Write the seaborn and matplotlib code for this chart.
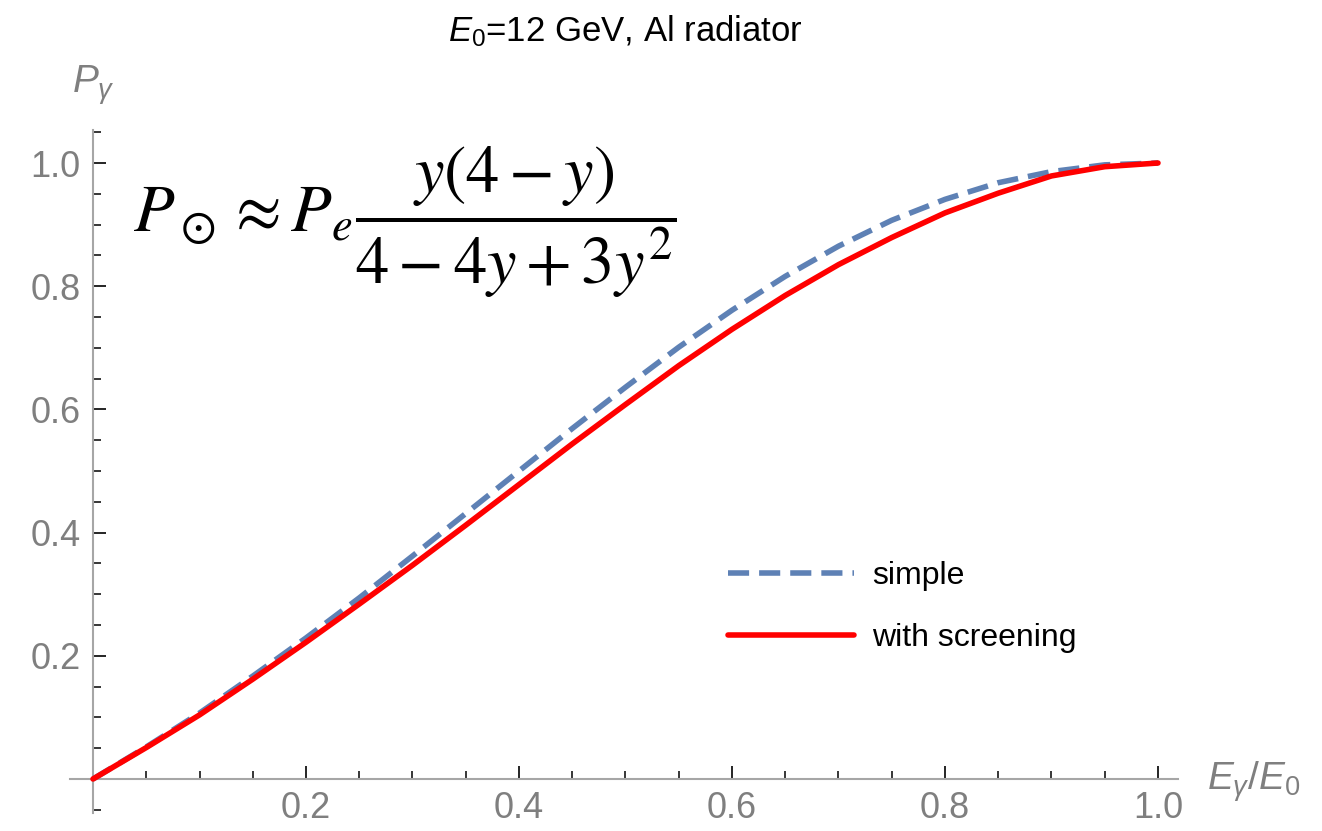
import numpy as np
import pandas as pd
import matplotlib
matplotlib.use("Agg")
import matplotlib.pyplot as plt
from matplotlib.ticker import FixedLocator
import seaborn as sns

# ---- data ----
x_vals = [0.00, 0.05, 0.10, 0.15, 0.20, 0.25, 0.30, 0.35, 0.40, 0.45, 0.50,
          0.55, 0.60, 0.65, 0.70, 0.75, 0.80, 0.85, 0.90, 0.95, 1.00]
simple = [0.000, 0.052, 0.107, 0.167, 0.229, 0.294, 0.362, 0.431, 0.500, 0.569, 0.636,
          0.701, 0.761, 0.816, 0.865, 0.907, 0.941, 0.968, 0.986, 0.997, 1.000]
screening = [0.000, 0.051, 0.104, 0.162, 0.222, 0.284, 0.347, 0.412, 0.478, 0.544, 0.608,
             0.671, 0.730, 0.785, 0.835, 0.879, 0.919, 0.951, 0.979, 0.994, 1.000]
series_names = ["simple", "with screening"]
x_major = [0.2, 0.4, 0.6, 0.8, 1.0]
y_major = [0.2, 0.4, 0.6, 0.8, 1.0]
x_tick_labels = ["0.2", "0.4", "0.6", "0.8", "1.0"]
y_tick_labels = ["0.2", "0.4", "0.6", "0.8", "1.0"]

df = pd.DataFrame({
    "x": x_vals + x_vals,
    "P": simple + screening,
    "series": [series_names[0]] * len(x_vals) + [series_names[1]] * len(x_vals),
})

sns.set_theme(style="white")
plt.rcParams["font.family"] = ["Liberation Sans", "DejaVu Sans"]
plt.rcParams["mathtext.fontset"] = "custom"
plt.rcParams["mathtext.rm"] = "Liberation Sans"
plt.rcParams["mathtext.it"] = "Liberation Sans:italic"
plt.rcParams["mathtext.bf"] = "Liberation Sans:bold"

W, H = 1322, 831
fig = plt.figure(figsize=(W / 100, H / 100), dpi=100)

# axes box in pixels (left, right, bottom, top)
px_l, px_r, px_b, px_t = 70, 1178, 813, 130
ax = fig.add_axes([px_l / W, 1 - px_b / H, (px_r - px_l) / W, (px_b - px_t) / H])

blue = "#5E81B5"
red = "#FF0000"
LW = 4.0
sns.lineplot(data=df, x="x", y="P", hue="series", style="series",
             palette={series_names[0]: blue, series_names[1]: red},
             dashes={series_names[0]: (3.8, 1.8), series_names[1]: ""},
             linewidth=LW, ax=ax, legend=True)
lines = ax.get_lines()
for ln in lines:
    ln.set_dash_capstyle("butt")
    ln.set_solid_joinstyle("round")
if len(lines) >= 2:
    lines[1].set_zorder(3)
    lines[0].set_zorder(2.5)

# axis limits matching pixel positions (0 at px 93, 1 at px 1158; y 0 at 779, 1 at 163)
sx = 1065.0
sy = 616.0
ax.set_xlim((px_l - 93) / sx, (px_r - 93) / sx)
ax.set_ylim((779 - px_b) / sy, (779 - px_t) / sy)

# spines crossing at origin
for s in ["top", "right"]:
    ax.spines[s].set_visible(False)
ax.spines["left"].set_position(("data", 0))
ax.spines["bottom"].set_position(("data", 0))
for s in ["left", "bottom"]:
    ax.spines[s].set_color("#a6a6a6")
    ax.spines[s].set_linewidth(1.5)
    ax.spines[s].set_zorder(1)

ax.xaxis.set_major_locator(FixedLocator(x_major))
ax.yaxis.set_major_locator(FixedLocator(y_major))
ax.set_xticklabels(x_tick_labels)
ax.set_yticklabels(y_tick_labels)
x_minor = [round(0.05 * k, 2) for k in range(1, 21) if round(0.05 * k, 2) not in x_major]
y_minor = [round(0.05 * k, 2) for k in range(-1, 22) if round(0.05 * k, 2) not in y_major]
ax.xaxis.set_minor_locator(FixedLocator(x_minor))
ax.yaxis.set_minor_locator(FixedLocator(y_minor))
ax.tick_params(which="both", bottom=True, left=True, top=False, right=False)
ax.tick_params(which="major", direction="in", length=9.4, width=1.2, color="black",
               labelsize=26, labelcolor="#7f7f7f")
ax.tick_params(which="minor", direction="in", length=5.8, width=1.1, color="black")
ax.tick_params(axis="y", which="major", pad=9)
ax.tick_params(axis="x", which="major", pad=9)
ax.set_xlabel("")
ax.set_ylabel("")
ax.grid(False)

# axis labels
ax.text(0, (779 - 93) / sy, r"$P_\gamma$", ha="center", va="baseline",
        fontsize=28, color="#7f7f7f")
ax.text((1207 - 93) / sx, (779 - 790) / sy, r"$E_\gamma/E_0$", ha="left", va="baseline",
        fontsize=28, color="#7f7f7f")

# title
fig.text(625 / W, 1 - 31 / H, r"$E_0$=12 GeV, Al radiator", ha="center", va="center",
         fontsize=25, color="black")

# formula
fig.text(133 / W, 1 - 222 / H,
         r"$P_\odot \approx P_e\dfrac{y(4-y)}{4-4y+3y^2}$",
         ha="left", va="center", fontsize=48, color="black", math_fontfamily="stix")

# legend
old = ax.get_legend()
handles = list(old.legend_handles)
labels = [t.get_text() for t in old.get_texts()]
old.remove()
leg = ax.legend(handles, labels, loc="upper left",
                bbox_to_anchor=(728 / W, 1 - 561 / H), bbox_transform=fig.transFigure,
                frameon=False, fontsize=23, handlelength=3.95, handletextpad=0.55,
                labelspacing=1.0, borderpad=0, borderaxespad=0)
for t in leg.get_texts():
    t.set_color("black")
for h in leg.legend_handles:
    h.set_linewidth(LW)
    try:
        h.set_dash_capstyle("butt")
    except Exception:
        pass

fig.savefig("out.png", dpi=100)
